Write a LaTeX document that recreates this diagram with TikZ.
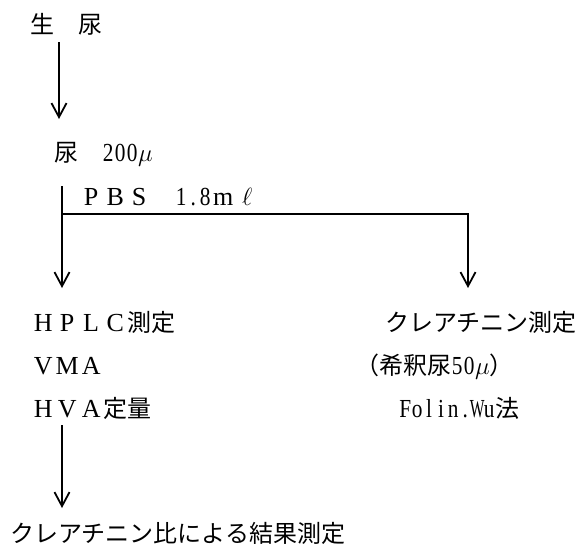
\documentclass[tikz,border=0pt]{standalone}
\usepackage{fontspec}
\usepackage{graphicx}
\setmainfont{Liberation Serif}
\newfontfamily\cjk{Noto Sans CJK JP}
\usetikzlibrary{arrows.meta}
\newcommand{\fwc}[1]{\makebox[24pt]{\fontsize{26}{28}\selectfont\rmfamily #1}}
\newcommand{\hwc}[1]{\makebox[12pt]{\scalebox{0.82}[1]{\fontsize{26}{28}\selectfont\rmfamily #1}}}
\newcommand{\hwn}[2]{\makebox[12pt]{\scalebox{#2}[1]{\fontsize{26}{28}\selectfont\rmfamily #1}}}
\newcommand{\mumu}{{\fontsize{26}{28}\selectfont$\mu$}}
\begin{document}
\begin{tikzpicture}[x=1pt,y=-1pt,
  txt/.style={anchor=base west, inner sep=0pt, font=\cjk\fontsize{24}{26}\selectfont},
  conn/.style={line width=1.8pt},
  arr/.style={conn,-{Straight Barb[length=14pt,width=15pt]}}]
\useasboundingbox (0,0) rectangle (586,546);
% texts
\node[txt] (raw) at (30,33) {生　尿};
\node[txt] (urine) at (54,161) {尿　\hwc{2}\hwc{0}\hwc{0}\mumu};
\node[txt] (pbs) at (79,205) {\fwc{P}\fwc{B}\fwc{S}\hspace{24pt}\hwc{1}\hwc{.}\hwc{8}\fwc{m}\fwc{$\ell$}};
\node[txt] (hplc) at (31,331) {\fwc{H}\fwc{P}\fwc{L}\fwc{C}測定};
\node[txt] (vma) at (31,374) {\fwc{V}\fwc{M}\fwc{A}};
\node[txt] (hva) at (31,417) {\fwc{H}\fwc{V}\fwc{A}定量};
\node[txt] (crea) at (385,331) {クレアチニン測定};
\node[txt] (dil) at (355,374) {（希釈尿\hwc{5}\hwc{0}\mumu）};
\node[txt] (folin) at (399,417) {\hwc{F}\hwc{o}\hwc{l}\hwc{i}\hwc{n}\hwc{.}\hwn{W}{0.6}\hwc{u}法};
\node[txt] (result) at (10,542) {クレアチニン比による結果測定};
% connectors
\coordinate (s1) at (59,42);
\coordinate (e1) at (59,119);
\draw[arr] (s1) -- (e1);
\coordinate (s2) at (62,186);
\coordinate (e2) at (62,288);
\draw[arr] (s2) -- (e2);
\coordinate (j) at (62,214);
\coordinate (e3) at (468,288);
\draw[arr] (j) -| (e3);
\coordinate (s4) at (62,425);
\coordinate (e4) at (62,508);
\draw[arr] (s4) -- (e4);
\end{tikzpicture}
\end{document}
